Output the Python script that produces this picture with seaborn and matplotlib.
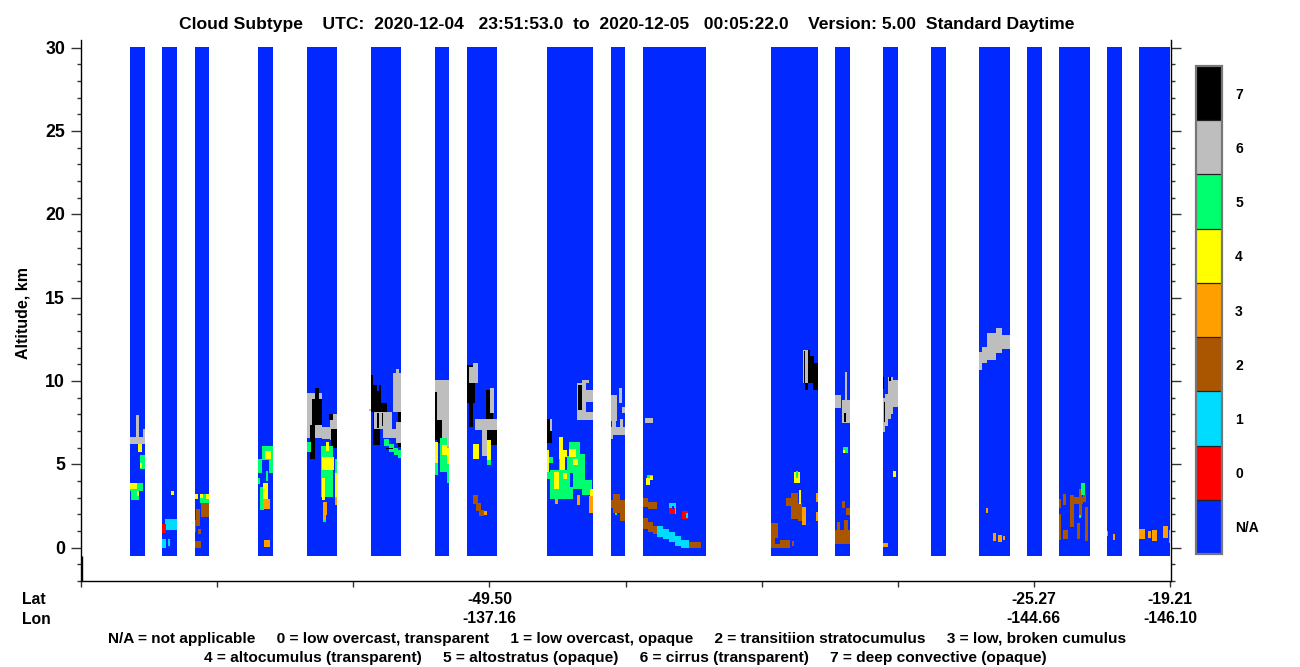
import numpy as np
import matplotlib
matplotlib.use('Agg')
import matplotlib.pyplot as plt
from matplotlib.colors import ListedColormap
import seaborn as sns

W, H = 1300, 667

# cloud subtype classes, N/A = -1
subtype_labels = ['N/A', '0', '1', '2', '3', '4', '5', '6', '7']
subtype_colors = ['#0028ff', '#ff0000', '#00dcff', '#aa5500', '#ffa000',
                  '#ffff00', '#00ff6e', '#bebebe', '#000000']
NA, OVC_T, OVC_O, STRATO, CUMU, ALTOC, ALTOS, CIRRUS, DEEP = -1, 0, 1, 2, 3, 4, 5, 6, 7

# profile ranges that have data
segment_start = [49, 81, 114, 177, 226, 290, 354, 386, 466, 530, 562, 690, 754, 802, 850, 898, 946, 978, 1026, 1058]
segment_end = [64, 96, 128, 192, 256, 320, 368, 416, 512, 544, 625, 737, 769, 817, 865, 929, 961, 1009, 1041, 1089]

lat_labels = ['', '', '', '-49.50', '', '', '', '-25.27', '-19.21']
lon_labels = ['', '', '', '-137.16', '', '', '', '-144.66', '-146.10']

# (subtype, first profile, last profile, bottom km, top km), later ones paint over
clouds_a = [
    (CIRRUS, 49, 64, 6.2, 6.65), (CIRRUS, 55, 58, 6.6, 7.95), (CIRRUS, 62, 64, 6.6, 7.15),
    (ALTOC, 57, 61, 5.75, 6.2), (ALTOS, 59, 64, 4.75, 5.55), (ALTOC, 59, 61, 4.8, 5.1),
    (ALTOS, 49, 62, 3.4, 3.9), (ALTOS, 50, 58, 2.85, 3.4), (ALTOC, 49, 56, 3.5, 3.9), (ALTOC, 56, 58, 3.1, 3.4),
    (ALTOC, 90, 93, 3.15, 3.4), (OVC_O, 84, 96, 1.05, 1.7), (OVC_T, 81, 85, 0.85, 1.4),
    (OVC_O, 81, 85, 0, 0.5), (OVC_O, 87, 89, 0.1, 0.55),
    (STRATO, 114, 120, 0, 0.4), (STRATO, 114, 115, 0.95, 1.35), (STRATO, 117, 120, 0.8, 1.1),
    (STRATO, 114, 119, 1.3, 1.65), (STRATO, 115, 119, 1.65, 2.35), (STRATO, 120, 128, 1.85, 2.85),
    (ALTOS, 119, 128, 2.65, 3.2), (ALTOC, 114, 117, 2.9, 3.2), (ALTOC, 125, 128, 2.9, 3.2), (ALTOC, 119, 122, 3.0, 3.2),
    (CUMU, 183, 189, 0.05, 0.45), (ALTOS, 179, 183, 2.25, 3.65), (ALTOC, 182, 187, 2.9, 3.85),
    (CUMU, 182, 189, 2.35, 2.9), (ALTOS, 185, 187, 4.0, 4.6), (ALTOS, 177, 179, 3.8, 4.2),
    (ALTOS, 177, 181, 4.45, 5.3), (ALTOS, 181, 192, 5.25, 6.1), (ALTOS, 188, 192, 4.45, 5.6), (ALTOC, 184, 190, 5.3, 5.8),
    (CIRRUS, 226, 241, 6.55, 9.25), (DEEP, 234, 238, 7.6, 9.55), (DEEP, 231, 241, 7.35, 8.95),
    (DEEP, 229, 234, 5.3, 7.35), (ALTOS, 226, 230, 5.75, 6.35),
    (CIRRUS, 241, 249, 6.5, 7.25), (CIRRUS, 249, 256, 6.45, 8.0), (DEEP, 248, 252, 7.65, 8.0), (DEEP, 250, 256, 6.0, 7.15),
    (ALTOS, 240, 252, 3.05, 6.1), (ALTOC, 245, 248, 5.8, 6.35), (ALTOC, 241, 253, 4.65, 5.45),
    (ALTOC, 241, 244, 2.85, 4.15), (CUMU, 242, 246, 1.95, 2.75), (CUMU, 242, 245, 1.65, 1.95), (ALTOS, 242, 245, 1.55, 1.65),
    (NA, 246, 252, 2.0, 3.0), (ALTOS, 254, 256, 4.45, 5.35), (ALTOC, 254, 256, 3.05, 4.45), (CUMU, 254, 256, 2.55, 3.05),
    (DEEP, 290, 306, 8.15, 9.75), (DEEP, 290, 292, 9.75, 10.35), (DEEP, 292, 299, 6.15, 8.15),
    (NA, 300, 306, 8.7, 9.75), (NA, 296, 298, 9.4, 9.75), (CIRRUS, 288, 290, 8.2, 8.3),
    (CIRRUS, 293, 311, 7.15, 8.15), (DEEP, 296, 298, 7.2, 8.1), (DEEP, 301, 302, 7.3, 8.1), (CIRRUS, 312, 320, 8.15, 10.45), (CIRRUS, 315, 318, 10.45, 10.75),
    (DEEP, 317, 320, 7.55, 8.15), (CIRRUS, 302, 320, 6.55, 7.15), (CIRRUS, 315, 320, 6.25, 7.55),
    (ALTOS, 303, 308, 6.1, 6.5), (ALTOS, 308, 313, 5.75, 6.2), (ALTOS, 313, 317, 5.55, 6.0), (ALTOS, 317, 320, 5.4, 5.85),
    (DEEP, 305, 312, 5.9, 6.0), (DEEP, 317, 320, 6.05, 6.25),
]

clouds_b = [
    (CIRRUS, 354, 368, 6.45, 10.05), (DEEP, 354, 356, 6.45, 9.35), (DEEP, 356, 361, 6.25, 7.65), (CIRRUS, 361, 368, 6.05, 6.45),
    (ALTOS, 354, 357, 4.35, 5.65), (ALTOC, 354, 357, 5.05, 6.35), (ALTOS, 359, 366, 4.55, 6.55), (ALTOC, 361, 366, 5.55, 6.15),
    (ALTOS, 366, 368, 3.9, 6.05), (ALTOC, 366, 368, 5.0, 6.0),
    (DEEP, 386, 394, 7.25, 10.95), (NA, 386, 388, 7.25, 8.7), (NA, 392, 394, 7.25, 8.7),
    (CIRRUS, 388, 392, 9.85, 10.85), (CIRRUS, 392, 397, 9.85, 11.05),
    (DEEP, 405, 412, 7.75, 9.45), (CIRRUS, 409, 413, 8.05, 9.55), (CIRRUS, 394, 416, 7.05, 7.75),
    (CIRRUS, 401, 406, 5.5, 7.65), (DEEP, 406, 416, 6.15, 7.05), (ALTOC, 392, 398, 5.35, 6.2),
    (ALTOC, 406, 410, 5.25, 6.45), (ALTOS, 406, 410, 4.95, 5.25),
    (STRATO, 392, 397, 2.6, 3.15), (STRATO, 395, 400, 2.2, 2.7), (STRATO, 398, 403, 1.9, 2.25), (CUMU, 403, 406, 1.95, 2.2),
    (DEEP, 466, 471, 6.25, 7.75), (CIRRUS, 469, 471, 7.0, 7.7),
    (CIRRUS, 496, 505, 7.65, 9.85), (CIRRUS, 505, 512, 8.75, 9.45), (CIRRUS, 505, 512, 7.65, 8.15),
    (CIRRUS, 501, 508, 9.85, 10.05), (DEEP, 497, 501, 8.25, 9.75),
    (ALTOC, 466, 468, 4.55, 5.85), (ALTOS, 468, 472, 5.05, 5.45), (ALTOS, 466, 469, 4.1, 4.55),
    (ALTOS, 478, 482, 4.1, 5.35), (ALTOC, 478, 482, 5.35, 6.65),
    (ALTOS, 469, 486, 2.9, 4.65), (ALTOC, 473, 478, 3.55, 4.55), (ALTOC, 482, 486, 4.1, 4.45), (ALTOC, 479, 484, 4.65, 5.45),
    (ALTOS, 486, 504, 3.55, 6.35), (NA, 486, 488, 5.5, 6.35), (NA, 499, 504, 5.6, 6.35), (NA, 489, 492, 3.55, 4.5),
    (ALTOC, 488, 495, 5.45, 5.95), (ALTOC, 482, 486, 5.45, 5.85), (ALTOC, 492, 497, 4.95, 5.35),
    (ALTOS, 482, 492, 2.9, 3.65), (NA, 492, 501, 2.9, 3.55), (CUMU, 496, 499, 2.55, 3.15), (ALTOS, 501, 511, 3.15, 4.05),
    (ALTOC, 509, 512, 3.05, 3.55), (CUMU, 508, 512, 2.1, 3.1), (CUMU, 474, 477, 2.6, 2.9),
    (CIRRUS, 530, 536, 7.6, 9.15), (CIRRUS, 531, 535, 7.15, 7.85), (CIRRUS, 530, 544, 6.75, 7.25), (CIRRUS, 530, 532, 6.5, 6.8),
    (CIRRUS, 538, 541, 8.65, 9.55), (CIRRUS, 541, 544, 8.05, 8.45), (CIRRUS, 539, 542, 7.25, 7.75),
    (STRATO, 530, 532, 2.4, 2.85), (STRATO, 532, 539, 2.05, 3.2), (STRATO, 539, 544, 1.6, 2.85), (ALTOS, 534, 536, 1.95, 2.05),
    (CIRRUS, 564, 572, 7.45, 7.8), (ALTOS, 566, 572, 4.05, 4.35), (ALTOC, 565, 569, 3.75, 4.15), (ALTOC, 569, 572, 4.05, 4.3),
    (STRATO, 562, 567, 2.45, 3.0), (STRATO, 567, 576, 2.3, 2.75),
    (STRATO, 562, 567, 1.15, 1.8), (STRATO, 567, 572, 0.95, 1.55), (STRATO, 572, 576, 0.8, 1.3),
    (OVC_O, 576, 582, 0.65, 1.3), (OVC_O, 582, 588, 0.5, 1.1), (OVC_O, 588, 594, 0.35, 0.95),
    (OVC_O, 594, 600, 0.1, 0.7), (OVC_O, 600, 608, 0, 0.45), (STRATO, 608, 620, 0, 0.35),
    (OVC_O, 588, 595, 2.0, 2.7), (OVC_T, 588, 594, 2.0, 2.4), (NA, 591, 593, 2.3, 2.5), (OVC_T, 601, 607, 1.7, 2.2), (OVC_O, 605, 607, 1.8, 2.1),
    (DEEP, 724, 737, 9.45, 11.85), (NA, 733, 737, 11.1, 11.85), (NA, 729, 733, 11.5, 11.85), (NA, 727, 732, 9.45, 9.85),
    (CIRRUS, 722, 727, 9.85, 11.85), (DEEP, 723, 724, 9.9, 11.8),
    (ALTOC, 713, 719, 3.9, 4.55), (ALTOS, 715, 717, 4.2, 4.6),
    (STRATO, 705, 710, 2.5, 3.0), (STRATO, 710, 717, 1.7, 3.25), (STRATO, 717, 721, 1.6, 2.7),
    (ALTOC, 718, 720, 2.6, 3.45), (CUMU, 721, 725, 1.35, 2.45),
    (STRATO, 690, 697, 0, 1.5), (STRATO, 697, 709, 0, 0.45), (NA, 694, 699, 0.2, 0.6), (STRATO, 711, 713, 0.1, 0.4),
    (CUMU, 735, 737, 2.75, 3.25), (CUMU, 735, 737, 1.6, 2.15),
    (CIRRUS, 754, 760, 8.4, 9.15), (CIRRUS, 764, 766, 8.85, 10.55), (CIRRUS, 761, 769, 7.45, 8.85), (DEEP, 763, 765, 7.55, 8.1),
    (ALTOS, 762, 767, 5.65, 6.05), (ALTOC, 762, 764, 5.65, 5.85),
    (STRATO, 754, 769, 0.2, 1.05), (STRATO, 756, 759, 0.85, 1.55), (STRATO, 763, 767, 0.85, 1.65),
    (STRATO, 761, 764, 2.4, 2.8), (STRATO, 765, 769, 1.95, 2.4),
]

clouds_c = [
    (CIRRUS, 802, 804, 6.95, 9.0), (CIRRUS, 804, 807, 7.3, 9.2), (CIRRUS, 807, 810, 7.7, 10.25), (CIRRUS, 810, 812, 8.0, 10.25), (CIRRUS, 812, 817, 8.45, 10.05),
    (DEEP, 802, 803, 9.5, 10.25), (DEEP, 808, 810, 10.0, 10.25), (DEEP, 803, 804, 7.55, 8.75),
    (ALTOC, 812, 815, 4.25, 4.6), (CUMU, 802, 807, 0.03, 0.3),
    (CIRRUS, 898, 901, 10.65, 11.75), (CIRRUS, 901, 906, 11.05, 12.05), (CIRRUS, 906, 915, 11.25, 12.85),
    (CIRRUS, 915, 921, 11.7, 13.2), (CIRRUS, 921, 929, 11.95, 12.75),
    (CUMU, 905, 907, 2.1, 2.4), (CUMU, 912, 915, 0.4, 0.9), (CUMU, 917, 921, 0.35, 0.75), (CUMU, 922, 924, 0.45, 0.7),
    (STRATO, 978, 980, 0.45, 2.0), (STRATO, 978, 980, 2.4, 2.9), (STRATO, 982, 985, 2.55, 3.2), (STRATO, 982, 987, 0.55, 1.05),
    (STRATO, 989, 993, 1.25, 3.15), (STRATO, 993, 1002, 2.6, 3.05), (STRATO, 996, 999, 0.55, 1.45), (STRATO, 998, 1001, 1.85, 3.55),
    (STRATO, 1004, 1007, 0.4, 2.45), (ALTOS, 1000, 1004, 3.15, 3.9), (ALTOS, 998, 1000, 1.8, 1.95), (STRATO, 1002, 1005, 2.75, 3.15),
    (CUMU, 1026, 1027, 0.7, 1.0), (CUMU, 1032, 1034, 0.45, 0.8),
    (CUMU, 1058, 1064, 0.55, 1.15), (CUMU, 1067, 1070, 0.6, 1.0), (CUMU, 1071, 1076, 0.4, 1.05),
    (CUMU, 1082, 1087, 0.6, 1.3), (CUMU, 1088, 1089, 0.3, 1.05),
]

# grid: one column per profile, 60 m rows
ALT_BOTTOM, ALT_TOP, ROW_KM = -2.0, 30.46, 0.06
N_COLS = 1090
N_ROWS = int(round((ALT_TOP - ALT_BOTTOM) / ROW_KM))


def row(alt):
    return int(round((alt - ALT_BOTTOM) / ROW_KM))


grid = np.full((N_ROWS, N_COLS), np.nan)
for s, e in zip(segment_start, segment_end):
    grid[row(-0.5):row(30.05), s:e] = NA
for code, c0, c1, a0, a1 in clouds_a + clouds_b + clouds_c:
    grid[row(a0):row(a1), c0:c1] = code

sns.set_style('ticks')
plt.rcParams['font.family'] = ['Liberation Sans', 'DejaVu Sans']
plt.rcParams['font.weight'] = 'bold'
plt.rcParams['text.color'] = 'black'
plt.rcParams['xtick.labelcolor'] = 'black'
plt.rcParams['ytick.labelcolor'] = 'black'

fig = plt.figure(figsize=(W / 100, H / 100), dpi=100)
ax = fig.add_axes([81 / W, (H - 580.5) / H, 1089.5 / W, 540.5 / H])
cax = fig.add_axes([1196 / W, (H - 554) / H, 26 / W, 488 / H])

sns.heatmap(grid, ax=ax, cbar_ax=cax, cmap=ListedColormap(subtype_colors),
            vmin=-1.5, vmax=7.5, xticklabels=False, yticklabels=False,
            cbar_kws={'drawedges': True, 'ticks': list(range(-1, 8))})
ax.set_xlim(0, N_COLS)
ax.set_ylim(0, N_ROWS)

for side in ['left', 'right', 'bottom']:
    ax.spines[side].set_visible(True)
    ax.spines[side].set_color('black')
    ax.spines[side].set_linewidth(1.0)
ax.spines['top'].set_visible(False)

# y axis in km
ax.set_yticks([row(a) for a in range(0, 31, 5)])
ax.set_yticklabels([str(a) for a in range(0, 31, 5)], fontsize=12.8, fontweight='bold')
ax.set_yticks([row(a) for a in range(-2, 31) if a % 5 != 0], minor=True)
ax.tick_params(axis='y', which='major', left=True, right=True, length=7.5, width=1.0, color='#333333', pad=4, labelcolor='black')
ax.tick_params(axis='y', which='minor', left=True, right=True, length=3.2, width=1.0, color='#333333')

# x axis, lat/lon under the labelled ticks
xticks = np.linspace(0, N_COLS - 0.5, 9)
ax.set_xticks(xticks)
ax.set_xticklabels([f'{a}\n{b}' if a else '' for a, b in zip(lat_labels, lon_labels)],
                   fontsize=11.3, fontweight='bold', linespacing=1.3)
ax.tick_params(axis='x', length=4.5, width=1.0, color='#333333', pad=4, labelcolor='black')

ax.vlines(1.5, 0, row(-0.5), color='black', lw=1.0)

cbar = ax.collections[0].colorbar
cbar.set_ticklabels(subtype_labels, fontsize=10, fontweight='bold')
cbar.ax.tick_params(length=0, pad=9.5, labelcolor='black')
cbar.dividers.set_color('#222222')
cbar.dividers.set_linewidth(0.9)
cbar.outline.set_edgecolor('#777777')
cbar.outline.set_linewidth(1.6)

fig.text(626.5 / W, (H - 25) / H, 'Cloud Subtype    UTC:  2020-12-04   23:51:53.0  to  2020-12-05   00:05:22.0    Version: 5.00  Standard Daytime',
         ha='center', va='center', fontsize=12.6, fontweight='bold', color='black')
fig.text(23 / W, (H - 313) / H, 'Altitude, km', rotation=90, ha='center', va='center', fontsize=11.5, fontweight='bold', color='black')
fig.text(22 / W, (H - 600) / H, 'Lat', ha='left', va='center', fontsize=11.3, fontweight='bold', color='black')
fig.text(22 / W, (H - 619.5) / H, 'Lon', ha='left', va='center', fontsize=11.3, fontweight='bold', color='black')
fig.text(617 / W, (H - 639) / H, 'N/A = not applicable     0 = low overcast, transparent     1 = low overcast, opaque     2 = transitiion stratocumulus     3 = low, broken cumulus',
         ha='center', va='center', fontsize=11.1, fontweight='bold', color='black')
fig.text(625.5 / W, (H - 658) / H, '4 = altocumulus (transparent)     5 = altostratus (opaque)     6 = cirrus (transparent)     7 = deep convective (opaque)',
         ha='center', va='center', fontsize=11.15, fontweight='bold', color='black')

fig.savefig('out.png', dpi=100)
